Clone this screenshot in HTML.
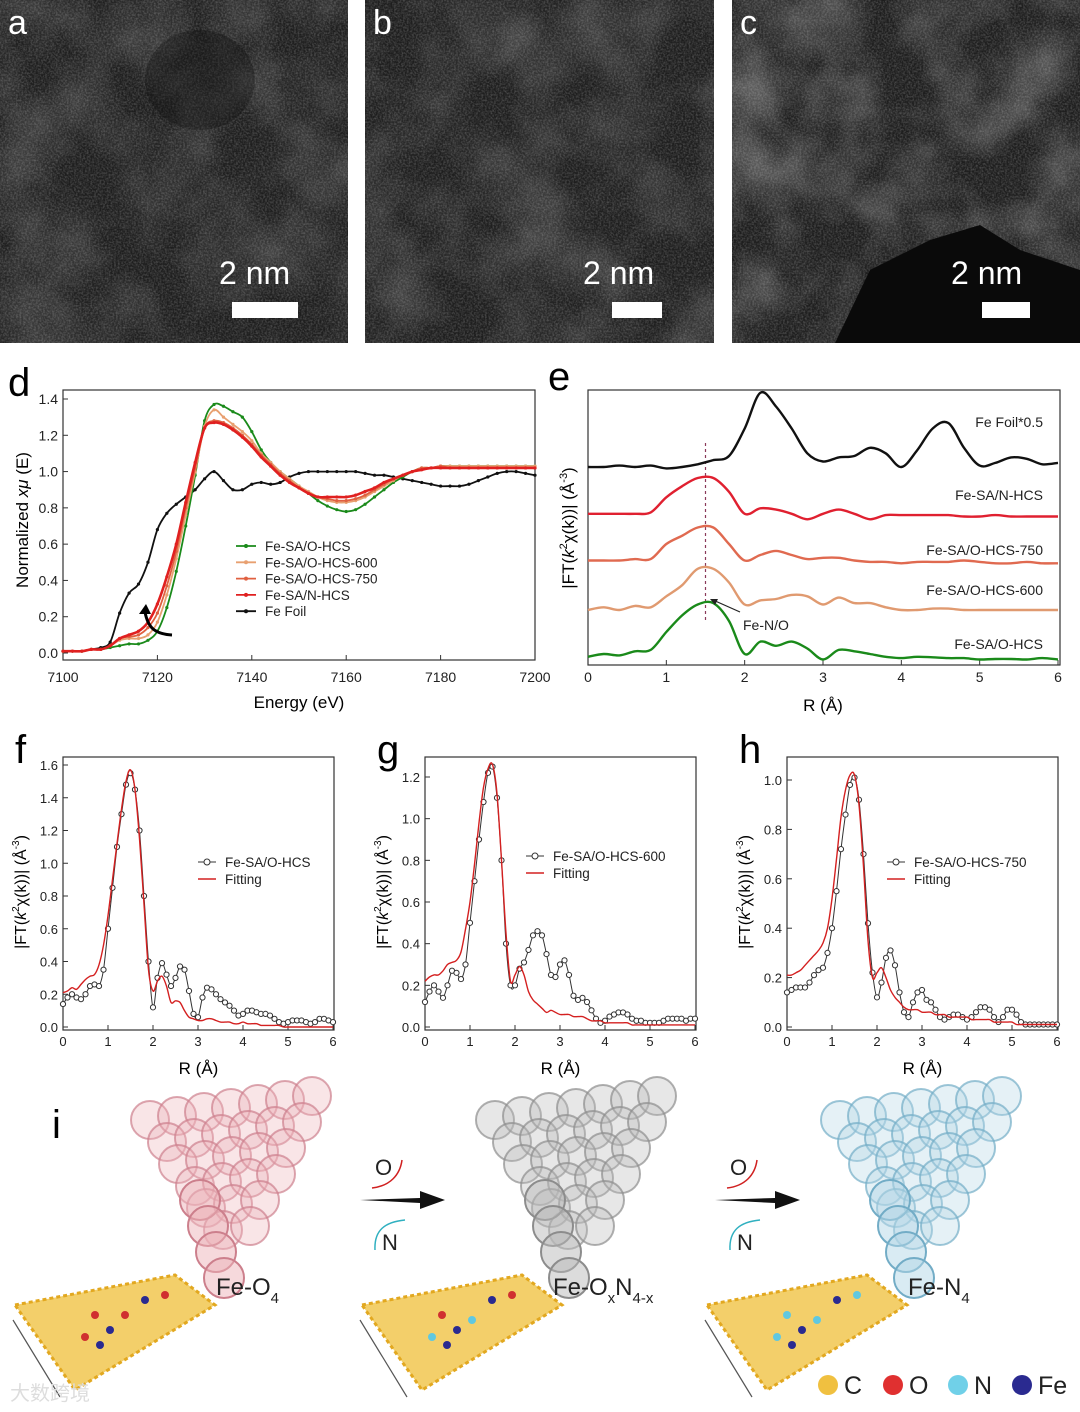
<!DOCTYPE html>
<html><head><meta charset="utf-8">
<style>
html,body{margin:0;padding:0;background:#fff;}
svg{display:block;font-family:"Liberation Sans",Arial,sans-serif;}
</style></head>
<body>
<svg id="fig" width="1080" height="1412" viewBox="0 0 1080 1412" xmlns="http://www.w3.org/2000/svg">
<defs>
<filter id="noiseA" x="0" y="0" width="100%" height="100%">
<feTurbulence type="fractalNoise" baseFrequency="0.55" numOctaves="2" seed="3"/>
<feColorMatrix type="matrix" values="0 0 0 0 1  0 0 0 0 1  0 0 0 0 1  1.6 0 0 0 -0.55"/>
</filter>
<filter id="blotch" x="0" y="0" width="100%" height="100%">
<feTurbulence type="fractalNoise" baseFrequency="0.014" numOctaves="3" seed="7"/>
<feColorMatrix type="matrix" values="0 0 0 0 1  0 0 0 0 1  0 0 0 0 1  1.4 0 0 0 -0.5"/>
</filter>
</defs>
<g id="tem"></g>
<g id="pd"></g>
<g id="pe"></g>
<g id="pf"></g>
<g id="pg"></g>
<g id="ph"></g>
<g id="pi"></g>
</svg>
<script>
// ---------- data: panel d ----------
const dEnergy = []; for (let e = 7100; e <= 7200; e += 2) dEnergy.push(e);
const dGreen = [0.01,0.01,0.01,0.02,0.02,0.03,0.04,0.05,0.05,0.07,0.12,0.25,0.45,0.7,0.98,1.28,1.37,1.36,1.33,1.3,1.22,1.12,1.05,1.0,0.96,0.92,0.88,0.84,0.81,0.79,0.78,0.79,0.82,0.86,0.9,0.94,0.97,1.0,1.02,1.02,1.03,1.03,1.03,1.03,1.03,1.03,1.03,1.03,1.03,1.03,1.03];
const d600 = [0.01,0.01,0.01,0.02,0.02,0.04,0.07,0.08,0.08,0.1,0.17,0.32,0.52,0.76,1.0,1.25,1.34,1.3,1.26,1.22,1.17,1.1,1.05,1.0,0.96,0.92,0.89,0.86,0.84,0.83,0.83,0.84,0.86,0.89,0.92,0.95,0.98,1.0,1.02,1.02,1.03,1.03,1.03,1.03,1.03,1.03,1.03,1.03,1.03,1.03,1.03];
const d750 = [0.01,0.01,0.01,0.02,0.02,0.04,0.08,0.09,0.1,0.14,0.22,0.37,0.56,0.8,1.02,1.24,1.28,1.27,1.24,1.2,1.15,1.09,1.04,0.99,0.95,0.91,0.88,0.86,0.85,0.84,0.84,0.85,0.87,0.9,0.93,0.96,0.98,1.0,1.02,1.02,1.03,1.02,1.02,1.02,1.02,1.02,1.02,1.02,1.02,1.02,1.02];
const dNHCS = [0.01,0.01,0.01,0.02,0.02,0.04,0.08,0.1,0.12,0.17,0.27,0.42,0.6,0.83,1.05,1.24,1.27,1.26,1.23,1.19,1.14,1.08,1.03,0.98,0.94,0.91,0.88,0.86,0.86,0.86,0.86,0.87,0.89,0.91,0.94,0.96,0.98,1.0,1.01,1.02,1.02,1.02,1.02,1.02,1.02,1.02,1.02,1.02,1.02,1.02,1.02];
const dFoil = [0.01,0.01,0.01,0.02,0.03,0.06,0.22,0.33,0.38,0.5,0.68,0.77,0.82,0.86,0.9,0.96,1.0,0.95,0.9,0.9,0.93,0.94,0.93,0.94,0.97,0.99,1.0,1.0,1.0,1.0,1.0,1.0,0.99,0.98,0.98,0.97,0.96,0.95,0.94,0.93,0.92,0.92,0.92,0.93,0.95,0.97,0.99,1.0,1.0,0.99,0.98];
const dXTicks = [7100,7120,7140,7160,7180,7200];
const dYTicks = [0.0,0.2,0.4,0.6,0.8,1.0,1.2,1.4];
const dLegend = ["Fe-SA/O-HCS","Fe-SA/O-HCS-600","Fe-SA/O-HCS-750","Fe-SA/N-HCS","Fe Foil"];
// ---------- data: panel e (offset-stacked, arbitrary units) ----------
const eR = []; for (let i = 0; i <= 30; i++) eR.push(i * 0.2);
const eGreen = [0.3,0.4,0.35,0.5,0.55,1.2,1.8,2.2,2.25,1.6,0.4,0.85,0.7,0.85,0.6,0.2,0.55,0.5,0.4,0.3,0.25,0.3,0.28,0.25,0.25,0.2,0.22,0.22,0.2,0.25,0.2];
const e600 = [2.0,2.1,2.0,2.15,2.1,2.5,2.9,3.5,3.5,3.0,2.2,2.35,2.4,2.55,2.5,2.2,2.45,2.25,2.25,2.1,2.0,2.0,2.05,2.05,2.0,2.0,2.0,2.0,2.0,2.0,2.0];
const e750 = [3.8,3.8,3.8,3.85,3.85,4.4,4.7,5.0,5.0,4.4,3.8,4.0,4.15,4.0,3.85,3.9,3.9,3.8,3.75,3.75,3.7,3.75,3.75,3.75,3.8,3.75,3.7,3.7,3.75,3.7,3.7];
const eNHCS = [5.5,5.5,5.5,5.5,5.55,6.1,6.5,6.8,6.8,6.3,5.5,5.7,5.65,5.5,5.3,5.5,5.65,5.5,5.3,5.45,5.45,5.45,5.45,5.45,5.4,5.4,5.45,5.4,5.4,5.4,5.4];
const eFoil = [7.2,7.2,7.25,7.2,7.25,7.15,7.2,7.3,7.45,7.6,8.6,9.9,9.4,8.6,7.7,7.4,7.55,7.6,7.9,7.7,7.2,7.8,8.6,8.8,7.9,7.25,7.35,7.55,7.5,7.3,7.35];
const eLabels = ["Fe-SA/O-HCS","Fe-SA/O-HCS-600","Fe-SA/O-HCS-750","Fe-SA/N-HCS","Fe Foil*0.5"];
const eXTicks = [0,1,2,3,4,5,6];
// ---------- data: panels f, g, h ----------
const fitR = []; for (let i = 0; i <= 60; i++) fitR.push(i * 0.1);
const fExp = [0.14,0.18,0.2,0.18,0.17,0.2,0.25,0.26,0.25,0.35,0.6,0.85,1.1,1.3,1.48,1.55,1.45,1.2,0.8,0.4,0.12,0.3,0.39,0.32,0.25,0.3,0.37,0.35,0.22,0.08,0.06,0.18,0.24,0.23,0.2,0.17,0.15,0.13,0.1,0.07,0.08,0.1,0.1,0.09,0.08,0.08,0.07,0.05,0.03,0.02,0.03,0.04,0.04,0.04,0.03,0.02,0.03,0.05,0.05,0.04,0.03];
const fFit = [0.21,0.22,0.24,0.23,0.26,0.29,0.31,0.32,0.38,0.5,0.68,0.9,1.12,1.33,1.5,1.57,1.45,1.15,0.75,0.35,0.22,0.28,0.31,0.25,0.15,0.16,0.15,0.1,0.06,0.05,0.04,0.04,0.05,0.05,0.04,0.03,0.03,0.03,0.02,0.02,0.03,0.02,0.02,0.02,0.01,0.01,0.01,0.01,0.01,0,0,0,0,0,0,0,0,0,0,0,0];
const gExp = [0.12,0.17,0.2,0.17,0.14,0.2,0.27,0.26,0.23,0.3,0.5,0.7,0.9,1.08,1.22,1.25,1.1,0.8,0.4,0.2,0.2,0.28,0.31,0.37,0.44,0.46,0.44,0.35,0.25,0.24,0.3,0.32,0.25,0.15,0.13,0.14,0.12,0.08,0.04,0.02,0.03,0.05,0.06,0.07,0.07,0.06,0.04,0.03,0.03,0.02,0.02,0.02,0.02,0.03,0.04,0.04,0.04,0.04,0.03,0.04,0.04];
const gFit = [0.22,0.24,0.25,0.25,0.27,0.3,0.31,0.32,0.36,0.47,0.6,0.78,0.98,1.15,1.24,1.26,1.12,0.8,0.45,0.22,0.25,0.29,0.25,0.17,0.13,0.11,0.09,0.07,0.08,0.07,0.06,0.06,0.06,0.05,0.05,0.05,0.04,0.03,0.03,0.03,0.02,0.02,0.02,0.02,0.02,0.02,0.01,0.01,0.01,0.01,0.01,0.01,0.01,0.01,0.01,0.01,0.01,0.01,0.01,0.01,0.01];
const hExp = [0.14,0.15,0.16,0.16,0.16,0.18,0.21,0.23,0.24,0.3,0.4,0.55,0.72,0.86,0.98,1.01,0.92,0.7,0.42,0.22,0.12,0.18,0.28,0.31,0.25,0.14,0.06,0.04,0.1,0.14,0.15,0.11,0.1,0.07,0.04,0.03,0.04,0.05,0.05,0.04,0.03,0.04,0.06,0.08,0.08,0.07,0.04,0.02,0.04,0.07,0.07,0.05,0.02,0.01,0.01,0.01,0.01,0.01,0.01,0.01,0.01];
const hFit = [0.21,0.21,0.22,0.23,0.25,0.27,0.29,0.31,0.34,0.4,0.52,0.68,0.85,0.96,1.02,1.02,0.9,0.65,0.35,0.2,0.22,0.24,0.2,0.15,0.12,0.1,0.08,0.07,0.07,0.07,0.06,0.06,0.06,0.05,0.05,0.05,0.04,0.04,0.04,0.04,0.04,0.03,0.03,0.03,0.03,0.03,0.02,0.02,0.02,0.02,0.02,0.01,0.01,0.01,0.01,0.01,0.01,0.01,0.01,0.01,0.01];
const fYTicks = [0,0.2,0.4,0.6,0.8,1.0,1.2,1.4,1.6];
const gYTicks = [0,0.2,0.4,0.6,0.8,1.0,1.2];
const hYTicks = [0,0.2,0.4,0.6,0.8,1.0];
const fghXTicks = [0,1,2,3,4,5,6];

const NS = "http://www.w3.org/2000/svg";
function mk(parent, tag, attrs, text) {
  const el = document.createElementNS(NS, tag);
  for (const k in attrs) el.setAttribute(k, attrs[k]);
  if (text !== undefined) el.textContent = text;
  parent.appendChild(el);
  return el;
}
function lin(d0, d1, p0, p1) { return v => p0 + (v - d0) * (p1 - p0) / (d1 - d0); }
function spline(pts) {
  let s = "M" + pts[0][0].toFixed(1) + "," + pts[0][1].toFixed(1);
  for (let i = 0; i < pts.length - 1; i++) {
    const p0 = pts[Math.max(0, i - 1)], p1 = pts[i], p2 = pts[i + 1], p3 = pts[Math.min(pts.length - 1, i + 2)];
    const c1x = p1[0] + (p2[0] - p0[0]) / 6, c1y = p1[1] + (p2[1] - p0[1]) / 6;
    const c2x = p2[0] - (p3[0] - p1[0]) / 6, c2y = p2[1] - (p3[1] - p1[1]) / 6;
    s += "C" + c1x.toFixed(1) + "," + c1y.toFixed(1) + " " + c2x.toFixed(1) + "," + c2y.toFixed(1) + " " + p2[0].toFixed(1) + "," + p2[1].toFixed(1);
  }
  return s;
}
function frame(g, x0, y0, x1, y1) {
  const r = mk(g, "rect", {x: x0, y: y0, width: x1 - x0, height: y1 - y0, fill: "none", stroke: "#333", "stroke-width": 1.2});
  
  
}
function label(g, x, y, txt, size) {
  const t = mk(g, "text", {x: x, y: y, "font-size": size || 40}, txt);
  
  
}

// ---------- TEM images ----------
(function () {
  const g = document.getElementById("tem");
  const imgs = [[0, 348, "a", 232, 298, 219, 284], [365, 714, "b", 612, 298, 583, 284], [732, 1080, "c", 982, 298, 951, 284]];
  imgs.forEach((im, k) => {
    const sub = mk(g, "g", {});
    
    
    const w = im[1] - im[0];
    mk(sub, "rect", {x: im[0], y: 0, width: w, height: 343, fill: "#1e1e1e"});
    mk(sub, "rect", {x: im[0], y: 0, width: w, height: 343, filter: "url(#blotch)", opacity: k === 2 ? 0.4 : 0.25});
    mk(sub, "rect", {x: im[0], y: 0, width: w, height: 343, filter: "url(#noiseA)", opacity: 0.25});
    if (k === 2) mk(sub, "path", {d: "M835,343 L870,270 L930,240 L980,225 L1020,250 L1080,270 L1080,343 Z", fill: "#0a0a0a"});
    if (k === 0) mk(sub, "ellipse", {cx: 200, cy: 80, rx: 55, ry: 50, fill: "#0e0e0e", opacity: 0.35});
    const lt = mk(sub, "text", {x: im[0] + 8, y: 34, "font-size": 34, fill: "#fff"}, im[2]);
    
    
    const st = mk(sub, "text", {x: im[5], y: im[6], "font-size": 32, fill: "#fff"}, "2 nm");
    
    
    const sb = mk(sub, "rect", {x: im[3], y: im[4] + 4, width: k === 1 ? 50 : (k === 0 ? 66 : 48), height: 16, fill: "#fff"});
    
    
  });
})();

// ---------- panel d ----------
(function () {
  const g = document.getElementById("pd");
  const X = lin(7100, 7200, 63, 535), Y = lin(0, 1.4, 653, 399);
  label(g, 8, 396, "d");
  frame(g, 63, 390, 535, 660);
  dXTicks.forEach(v => {
    mk(g, "line", {x1: X(v), x2: X(v), y1: 660, y2: 655, stroke: "#333"});
    const t = mk(g, "text", {x: X(v), y: 682, "font-size": 14, "text-anchor": "middle", fill: "#222"}, v);
    
    
  });
  dYTicks.forEach(v => {
    mk(g, "line", {x1: 63, x2: 68, y1: Y(v), y2: Y(v), stroke: "#333"});
    const t = mk(g, "text", {x: 58, y: Y(v) + 5, "font-size": 14, "text-anchor": "end", fill: "#222"}, v.toFixed(1));
    
    
  });
  const xt = mk(g, "text", {x: 299, y: 708, "font-size": 17, "text-anchor": "middle"}, "Energy (eV)");
  
  
  const yt = mk(g, "text", {x: 0, y: 0, "font-size": 17, "text-anchor": "middle", transform: "translate(28,520) rotate(-90)"});
  
  
  yt.innerHTML = 'Normalized <tspan font-style="italic">x</tspan><tspan font-style="italic">μ</tspan> (E)';
  const series = [[dFoil, "#111"], [dGreen, "#1a8a1a"], [d600, "#e8a070"], [d750, "#e06040"], [dNHCS, "#e02020"]];
  const names = ["fe-foil", "fe-sa-o-hcs", "fe-sa-o-hcs-600", "fe-sa-o-hcs-750", "fe-sa-n-hcs"];
  series.forEach((s, k) => {
    const pts = dEnergy.map((e, i) => [X(e), Y(s[0][i])]);
    const p = mk(g, "path", {d: spline(pts), fill: "none", stroke: s[1], "stroke-width": k === 4 ? 2.6 : 1.8});
    
    
    pts.forEach(q => {
      const c = mk(g, "circle", {cx: q[0], cy: q[1], r: 1.6, fill: s[1]});
      
      
    });
  });
  const arr = mk(g, "path", {d: "M172,635 C155,634 148,628 145,612", fill: "none", stroke: "#000", "stroke-width": 3});
  
  
  mk(g, "path", {d: "M139,614 L146,604 L151,614 Z", fill: "#000"});
  const cols = ["#1a8a1a", "#e8a070", "#e06040", "#e02020", "#111"];
  dLegend.forEach((n, i) => {
    const y = 546 + i * 16.3;
    const lg = mk(g, "g", {});
    
    
    mk(lg, "line", {x1: 236, x2: 256, y1: y, y2: y, stroke: cols[i], "stroke-width": 1.8});
    mk(lg, "circle", {cx: 246, cy: y, r: 2, fill: cols[i]});
    mk(lg, "text", {x: 265, y: y + 5, "font-size": 13.5, fill: "#222"}, n);
  });
})();

// ---------- panel e ----------
(function () {
  const g = document.getElementById("pe");
  const X = lin(0, 6, 588, 1058), Y = lin(0, 10, 665, 390);
  label(g, 548, 390, "e");
  frame(g, 588, 390, 1060, 665);
  eXTicks.forEach(v => {
    mk(g, "line", {x1: X(v), x2: X(v), y1: 665, y2: 660, stroke: "#333"});
    const t = mk(g, "text", {x: X(v), y: 682, "font-size": 14, "text-anchor": "middle", fill: "#222"}, v);
    
    
  });
  const xt = mk(g, "text", {x: 823, y: 711, "font-size": 17, "text-anchor": "middle"}, "R (Å)");
  
  
  const yt = mk(g, "text", {x: 0, y: 0, "font-size": 17, "text-anchor": "middle", transform: "translate(574,528) rotate(-90)"});
  
  
  yt.innerHTML = '|FT(<tspan font-style="italic">k</tspan><tspan font-size="11" dy="-7">2</tspan><tspan dy="7">χ(k))| (Å</tspan><tspan font-size="11" dy="-7">-3</tspan><tspan dy="7">)</tspan>';
  const dl = mk(g, "line", {x1: X(1.5), x2: X(1.5), y1: 443, y2: 622, stroke: "#8a3a5a", "stroke-dasharray": "3,3", "stroke-width": 1.2});
  
  
  const series = [[eGreen, "#1a8a1a"], [e600, "#e09a70"], [e750, "#e06a50"], [eNHCS, "#e02030"], [eFoil, "#111"]];
  const ly = [649, 595, 555, 500, 427];
  series.forEach((s, k) => {
    const pts = eR.map((r, i) => [X(r), Y(s[0][i])]);
    const p = mk(g, "path", {d: spline(pts), fill: "none", stroke: s[1], "stroke-width": 2.4});
    
    
    const t = mk(g, "text", {x: 1043, y: ly[k], "font-size": 14, "text-anchor": "end", fill: "#222"}, eLabels[k]);
    
    
  });
  const an = mk(g, "line", {x1: 740, y1: 612, x2: 713, y2: 600, stroke: "#222", "stroke-width": 1.2});
  
  
  mk(g, "path", {d: "M710,599 L718,599 L715,605 Z", fill: "#222"});
  const at = mk(g, "text", {x: 743, y: 630, "font-size": 14, fill: "#222"}, "Fe-N/O");
  
  
})();

// ---------- panels f g h ----------
function fitPanel(id, letter, x0, yTicks, ymax, yTop, exp, fit, legName, legY, legDx) {
  const g = document.getElementById(id);
  const x1 = x0 + 271, yb = 1027;
  const X = lin(0, 6, x0, x1 - 1), Y = lin(0, ymax, yb, yTop);
  label(g, x0 - 48, 763, letter);
  frame(g, x0, 757, x1, 1030);
  fghXTicks.forEach(v => {
    mk(g, "line", {x1: X(v), x2: X(v), y1: 1030, y2: 1025, stroke: "#333"});
    const t = mk(g, "text", {x: X(v), y: 1046, "font-size": 13, "text-anchor": "middle", fill: "#222"}, v);
    
    
  });
  yTicks.forEach(v => {
    mk(g, "line", {x1: x0, x2: x0 + 5, y1: Y(v), y2: Y(v), stroke: "#333"});
    const t = mk(g, "text", {x: x0 - 5, y: Y(v) + 5, "font-size": 13, "text-anchor": "end", fill: "#222"}, v.toFixed(1));
    
    
  });
  const xt = mk(g, "text", {x: (x0 + x1) / 2, y: 1074, "font-size": 17, "text-anchor": "middle"}, "R (Å)");
  
  
  const yt = mk(g, "text", {x: 0, y: 0, "font-size": 16, "text-anchor": "middle", transform: "translate(" + (x0 - 37) + ",892) rotate(-90)"});
  
  
  yt.innerHTML = '|FT(<tspan font-style="italic">k</tspan><tspan font-size="10" dy="-7">2</tspan><tspan dy="7">χ(k))| (Å</tspan><tspan font-size="10" dy="-7">-3</tspan><tspan dy="7">)</tspan>';
  const ep = fitR.map((r, i) => [X(r), Y(exp[i])]);
  const pe = mk(g, "path", {d: spline(ep), fill: "none", stroke: "#333", "stroke-width": 1});
  
  
  ep.forEach(q => {
    const c = mk(g, "circle", {cx: q[0], cy: q[1], r: 2.6, fill: "#fff", stroke: "#333", "stroke-width": 1});
    
    
  });
  const fp = fitR.map((r, i) => [X(r), Y(fit[i])]);
  const pf = mk(g, "path", {d: spline(fp), fill: "none", stroke: "#d42020", "stroke-width": 1.4});
  
  
  const lx = x0 + legDx;
  const l1 = mk(g, "g", {});
  
  
  mk(l1, "line", {x1: lx, x2: lx + 18, y1: legY, y2: legY, stroke: "#333"});
  mk(l1, "circle", {cx: lx + 9, cy: legY, r: 3, fill: "#fff", stroke: "#333"});
  mk(l1, "text", {x: lx + 27, y: legY + 5, "font-size": 13.5, fill: "#222"}, legName);
  const l2 = mk(g, "g", {});
  
  
  mk(l2, "line", {x1: lx, x2: lx + 18, y1: legY + 17, y2: legY + 17, stroke: "#d42020", "stroke-width": 1.4});
  mk(l2, "text", {x: lx + 27, y: legY + 22, "font-size": 13.5, fill: "#222"}, "Fitting");
}
fitPanel("pf", "f", 63, fYTicks, 1.6, 765, fExp, fFit, "Fe-SA/O-HCS", 862, 135);
fitPanel("pg", "g", 425, gYTicks, 1.2, 777, gExp, gFit, "Fe-SA/O-HCS-600", 856, 101);
fitPanel("ph", "h", 787, hYTicks, 1.0, 780, hExp, hFit, "Fe-SA/O-HCS-750", 862, 100);

// ---------- panel i (schematic) ----------
(function () {
  const g = document.getElementById("pi");
  label(g, 52, 1138, "i");
  function cluster(cx, top, fill, stroke, name) {
    const c = mk(g, "g", {opacity: 0.8});
    
    
    for (let row = 0; row < 6; row++) {
      const n = 7 - row;
      for (let j = 0; j < n; j++) {
        const x = cx - 95 + row * 14 + j * 27 + (row % 2) * 3;
        const y = top + 20 + row * 22 - j * 4;
        mk(c, "circle", {cx: x, cy: y, r: 19, fill: fill, "fill-opacity": 0.35, stroke: stroke, "stroke-width": 2, "stroke-opacity": 0.7});
      }
    }
    for (let r = 0; r < 4; r++) {
      mk(c, "circle", {cx: cx - 45 + r * 8, cy: top + 100 + r * 26, r: 20, fill: fill, "fill-opacity": 0.5, stroke: stroke, "stroke-width": 2});
    }
  }
  cluster(245, 1100, "#e8a0a8", "#c06070", "cluster-fe-o4");
  cluster(590, 1100, "#a8a8a8", "#707070", "cluster-fe-oxn4-x");
  cluster(935, 1100, "#a0cce0", "#5098b8", "cluster-fe-n4");
  function lattice(x, y, name, dots) {
    const l = mk(g, "g", {});
    
    
    mk(l, "path", {d: `M${x},${y + 30} L${x + 160},${y} L${x + 200},${y + 30} L${x + 60},${y + 115} Z`, fill: "#f3cf6a", stroke: "#e2a820", "stroke-width": 3, "stroke-dasharray": "4,3"});
    dots.forEach(d => mk(l, "circle", {cx: x + d[0], cy: y + d[1], r: 4, fill: d[2]}));
    mk(l, "path", {d: `M${x - 2},${y + 45} L${x + 45},${y + 122}`, stroke: "#555", fill: "none", "stroke-width": 1.2});
  }
  lattice(15, 1275, "graphene-lattice-o", [[80, 40, "#d03030"], [95, 55, "#2a2a90"], [110, 40, "#d03030"], [130, 25, "#2a2a90"], [85, 70, "#2a2a90"], [70, 62, "#d03030"], [150, 20, "#d03030"]]);
  lattice(362, 1275, "graphene-lattice-on", [[80, 40, "#d03030"], [95, 55, "#2a2a90"], [110, 45, "#60c8e0"], [130, 25, "#2a2a90"], [85, 70, "#2a2a90"], [70, 62, "#60c8e0"], [150, 20, "#d03030"]]);
  lattice(707, 1275, "graphene-lattice-n", [[80, 40, "#60c8e0"], [95, 55, "#2a2a90"], [110, 45, "#60c8e0"], [130, 25, "#2a2a90"], [85, 70, "#2a2a90"], [70, 62, "#60c8e0"], [150, 20, "#60c8e0"]]);
  const lbls = [[216, "Fe-O", "4", ""], [553, "Fe-O", "x", "N", "4-x"], [908, "Fe-N", "4", ""]];
  lbls.forEach((L, i) => {
    const t = mk(g, "text", {x: L[0], y: 1295, "font-size": 24, fill: "#222"});
    
    
    if (i === 1) t.innerHTML = 'Fe-O<tspan font-size="15" dy="8">x</tspan><tspan dy="-8">N</tspan><tspan font-size="15" dy="8">4-x</tspan>';
    else t.innerHTML = L[1] + '<tspan font-size="15" dy="8">' + L[2] + '</tspan>';
  });
  [[360, 1200], [715, 1200]].forEach((a, i) => {
    const ar = mk(g, "g", {});
    
    
    mk(ar, "path", {d: `M${a[0]},${a[1]} L${a[0] + 60},${a[1] - 2} L${a[0] + 60},${a[1] - 9} L${a[0] + 85},${a[1]} L${a[0] + 60},${a[1] + 9} L${a[0] + 60},${a[1] + 3} Z`, fill: "#111"});
    mk(ar, "text", {x: a[0] + 15, y: a[1] - 25, "font-size": 22, fill: "#222"}, "O");
    mk(ar, "path", {d: `M${a[0] + 12},${a[1] - 12} C${a[0] + 30},${a[1] - 14} ${a[0] + 40},${a[1] - 25} ${a[0] + 42},${a[1] - 40}`, fill: "none", stroke: "#d02020", "stroke-width": 1.5});
    mk(ar, "text", {x: a[0] + 22, y: a[1] + 50, "font-size": 22, fill: "#222"}, "N");
    mk(ar, "path", {d: `M${a[0] + 15},${a[1] + 50} C${a[0] + 14},${a[1] + 30} ${a[0] + 25},${a[1] + 22} ${a[0] + 45},${a[1] + 20}`, fill: "none", stroke: "#30b0c0", "stroke-width": 1.5});
  });
  const legs = [["C", "#f0c040", 828], ["O", "#e03030", 893], ["N", "#70d0e8", 958], ["Fe", "#2a2a90", 1022]];
  legs.forEach(L => {
    const lg = mk(g, "g", {});
    
    
    mk(lg, "circle", {cx: L[2], cy: 1385, r: 10, fill: L[1]});
    mk(lg, "text", {x: L[2] + 16, y: 1394, "font-size": 25, fill: "#222"}, L[0]);
  });
  const wm = mk(g, "text", {x: 10, y: 1400, "font-size": 20, fill: "#ddd"}, "大数跨境");
  
  
})();
</script>
</body></html>
